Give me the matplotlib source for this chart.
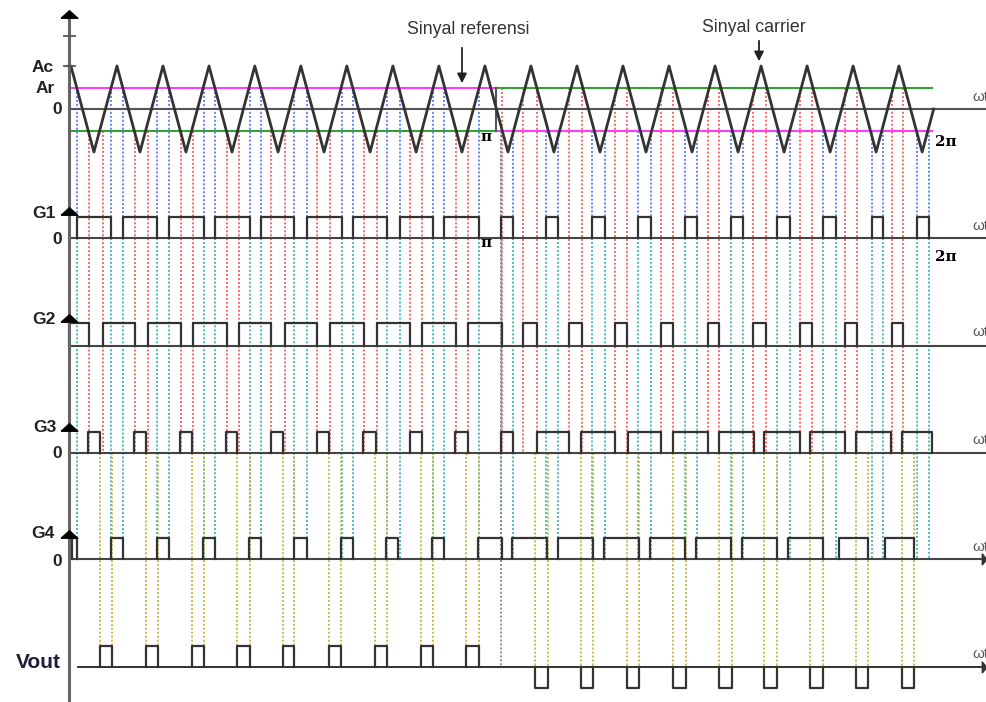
import numpy as np
import matplotlib.pyplot as plt

plt.rcParams['font.family'] = ['Liberation Sans', 'DejaVu Sans']

# ---- data (angles in degrees of wt) ----
carrier_peaks = [0.8, 20.0, 39.2, 58.4, 77.5, 96.7, 115.9, 135.1, 154.3, 173.5,
                 192.7, 211.9, 231.1, 250.3, 269.5, 288.7, 307.9, 327.1, 346.2]
carrier_troughs = [10.4, 29.6, 48.8, 68.0, 87.2, 106.4, 125.6, 144.8, 163.9, 183.1,
                   202.3, 221.5, 240.7, 259.9, 279.1, 298.3, 317.5, 336.7, 355.9]
carrier_end = 360.7
Ac = 1.0
Ar = 0.5
ref_switch = 178.1
ref_end = 360.0

g1_pulses = [(3.3, 17.5), (22.5, 36.7), (41.7, 56.3), (60.9, 75.5), (80.1, 93.9),
             (99.3, 113.9), (118.5, 132.7), (138.1, 151.8), (156.4, 171.0),
             (180.2, 185.2), (199.0, 204.0), (218.2, 223.6), (237.4, 242.8),
             (257.0, 262.0), (276.2, 281.2), (295.3, 300.8), (314.5, 320.0),
             (335.0, 339.6), (353.7, 358.8)]
g2_pulses = [(0.0, 8.3), (14.2, 27.5), (33.0, 46.7), (51.7, 65.9), (70.9, 84.3),
             (90.1, 103.5), (108.9, 123.1), (128.5, 142.3), (147.3, 161.4),
             (166.4, 180.6), (189.4, 195.2), (208.6, 214.0), (227.8, 232.8),
             (247.0, 252.0), (266.6, 271.2), (285.3, 290.8), (304.9, 309.9),
             (323.7, 328.7), (343.3, 347.9)]
g3_pulses = [(7.9, 12.9), (27.1, 32.1), (46.3, 51.3), (65.5, 70.1), (84.3, 89.3),
             (103.5, 108.5), (122.6, 128.1), (142.3, 147.3), (161.0, 166.4),
             (180.2, 185.2), (195.2, 208.6), (213.6, 227.8), (233.2, 247.0),
             (252.0, 266.6), (271.2, 285.8), (289.9, 304.9), (309.1, 323.7),
             (328.3, 342.9), (347.5, 360.0)]
g4_pulses = [(1.3, 3.3), (17.5, 22.5), (36.7, 41.7), (55.9, 60.9), (75.1, 80.1),
             (93.9, 99.3), (113.5, 118.5), (132.2, 137.2), (151.4, 156.4),
             (170.6, 180.6), (184.8, 199.4), (204.0, 218.6), (223.2, 237.8),
             (242.4, 257.0), (261.6, 276.2), (280.7, 295.3), (299.9, 314.5),
             (321.2, 333.3), (340.4, 352.5)]
vout_pos = [(12.9, 17.9), (32.1, 37.1), (51.3, 56.3), (70.1, 75.5), (89.3, 93.9),
            (108.5, 113.5), (127.7, 132.7), (146.8, 151.8), (165.6, 171.0)]
vout_neg = [(194.4, 199.8), (213.6, 218.6), (232.8, 237.8), (252.0, 257.4),
            (271.2, 276.6), (289.9, 295.3), (309.1, 314.5), (328.3, 333.3),
            (347.5, 352.5)]
vout_start = 3.8

# ---- layout (vertical positions in figure pixels, x scale) ----
PX_PER_DEG = 2.3972
X0 = 69
def xf(px):
    return (px - X0) / PX_PER_DEG

Y_ZERO = 109
C_SCALE = 43
ROWS = {'G1': 238, 'G2': 346, 'G3': 453, 'G4': 559, 'Vout': 667}
HEIGHTS = {'G1': 21, 'G2': 23, 'G3': 21, 'G4': 21, 'Vout': 21}

def yc(v):
    return Y_ZERO - v * C_SCALE

fig = plt.figure(figsize=(9.87, 7.02), dpi=100)
ax = fig.add_axes([0, 0, 1, 1])
ax.set_xlim(xf(0), xf(987))
ax.set_ylim(702, 0)
ax.axis('off')

DOT = (0, (1.1, 1.1))
BLUE, RED, CYAN, YEL = '#5a78ff', '#ff5c5c', '#3fb4bc', '#c4b43a'
MAG, GRN = '#ff3cff', '#35a035'

def mag_level(x):
    return Ar if x < ref_switch else -Ar

def grn_level(x):
    return -Ar if x < ref_switch else Ar

g1_edges = [e for p in g1_pulses for e in p]
g2_edges = [e for p in g2_pulses for e in p if e > 0]
vout_edges = [e for p in vout_pos + vout_neg for e in p]

# guide lines
for x in g1_edges:
    ax.plot([x, x], [yc(mag_level(x)), ROWS['G1']], color=BLUE, lw=1.3, ls=DOT, zorder=1)
    ax.plot([x, x], [ROWS['G1'], ROWS['G4']], color=CYAN, lw=1.3, ls=DOT, zorder=1)
for x in g2_edges:
    ax.plot([x, x], [yc(grn_level(x)), ROWS['G3']], color=RED, lw=1.3, ls=DOT, zorder=1)
for x in vout_edges:
    ax.plot([x, x], [ROWS['G3'], ROWS['Vout']], color=YEL, lw=1.3, ls=DOT, zorder=1)
ax.plot([180.2, 180.2], [yc(-Ar), ROWS['Vout']], color='#888888', lw=1.3, ls=DOT, zorder=1)
ax.plot([180.2, 180.2], [ROWS['G1'], ROWS['G3']], color='#999999', lw=1.0, zorder=1)

# carrier
cx = sorted(carrier_peaks + carrier_troughs)
cy = [Ac if x in carrier_peaks else -Ac for x in cx]
cx = [0.0] + cx + [carrier_end]
cy = [Ac] + cy + [0.0]
ax.plot(cx, [yc(v) for v in cy], color='#333333', lw=2.0, zorder=4)

# reference lines
ax.plot([0, ref_switch], [yc(Ar), yc(Ar)], color=MAG, lw=1.5, zorder=3)
ax.plot([ref_switch, ref_end], [yc(-Ar), yc(-Ar)], color=MAG, lw=1.5, zorder=3)
ax.plot([0, ref_switch], [yc(-Ar), yc(-Ar)], color=GRN, lw=1.5, zorder=3)
ax.plot([ref_switch, ref_end], [yc(Ar), yc(Ar)], color=GRN, lw=1.5, zorder=3)
ax.plot([ref_switch, ref_switch], [yc(Ar), yc(-Ar)], color='#555555', lw=1.5, zorder=3)

# zero / time axes
ax.plot([0, xf(987)], [Y_ZERO, Y_ZERO], color='#555555', lw=1.5, zorder=2)
for name in ['G1', 'G2', 'G3', 'G4']:
    ax.plot([0, xf(987)], [ROWS[name]] * 2, color='#444444', lw=1.5, zorder=2)
ax.plot([vout_start, xf(987)], [ROWS['Vout']] * 2, color='#222222', lw=1.3, zorder=2)

# pulses
def draw_pulses(pulses, base, h):
    for a, b in pulses:
        ax.plot([a, a, b, b], [base, base - h, base - h, base], color='#333333', lw=1.6, zorder=5)

for name, pulses in [('G1', g1_pulses), ('G2', g2_pulses), ('G3', g3_pulses), ('G4', g4_pulses)]:
    draw_pulses(pulses, ROWS[name], HEIGHTS[name])
draw_pulses(vout_pos, ROWS['Vout'], HEIGHTS['Vout'])
draw_pulses(vout_neg, ROWS['Vout'], -HEIGHTS['Vout'])

# vertical axis and arrows
ax.plot([0, 0], [12, 702], color='#666666', lw=2.2, zorder=6)
head = [(-1, -0.45), (1, -0.45), (0, 0.45), (-1, -0.45)]
for tip in [10, 207, 314, 423, 530]:
    ax.plot(0, tip + 4, marker=head, markersize=12, color='black', zorder=7)
for yt in [36, yc(Ac)]:
    ax.plot([xf(64), xf(75)], [yt, yt], color='#555555', lw=1.3, zorder=6)
right_head = [(-0.4, -1), (-0.4, 1), (0.4, 0), (-0.4, -1)]
for name in ['G4', 'Vout']:
    ax.plot(xf(984), ROWS[name], marker=right_head, markersize=8, color='#333333', zorder=7)

# labels
lab = dict(fontsize=12.5, fontweight='bold', color='#222222', ha='right', va='center')
ax.text(xf(54), yc(Ac) + 2, 'Ac', **lab)
ax.text(xf(55), yc(Ar) + 1, 'Ar', **lab)
ax.text(xf(62), Y_ZERO, '0', **lab)
ax.text(xf(56), 213, 'G1', **lab)
ax.text(xf(62), 239, '0', **lab)
ax.text(xf(56), 320, 'G2', **lab)
ax.text(xf(56), 427, 'G3', **lab)
ax.text(xf(62), 454, '0', **lab)
ax.text(xf(54), 533, 'G4', **lab)
ax.text(xf(62), 561, '0', **lab)
ax.text(xf(61), 662, 'Vout', fontsize=15, fontweight='bold', color='#1c1c3c', ha='right', va='center')

for yy in [97, 226, 332, 440, 547, 654]:
    ax.text(xf(972), yy, 'ωt', fontsize=11, color='#555555', ha='left', va='center')

ax.text(xf(468), 29, 'Sinyal referensi', fontsize=12.8, color='#333333', ha='center', va='center')
ax.text(xf(754), 28, 'Sinyal carrier', fontsize=12.8, color='#333333', ha='center', va='center')
arrow = dict(arrowstyle='-|>', color='#222222', lw=1.3, mutation_scale=14)
ax.annotate('', xy=(xf(462), 86), xytext=(xf(462), 45), arrowprops=arrow, zorder=8)
ax.annotate('', xy=(xf(759), 64), xytext=(xf(759), 38), arrowprops=arrow, zorder=8)

pi_kw = dict(fontsize=11, fontweight='bold', family='DejaVu Serif', color='black', ha='center', va='center')
ax.text(xf(486), 137, 'π', **pi_kw)
ax.text(xf(486), 243, 'π', **pi_kw)
ax.text(xf(946), 142, '2π', **pi_kw)
ax.text(xf(946), 257, '2π', **pi_kw)

fig.savefig('out.png', dpi=100)
